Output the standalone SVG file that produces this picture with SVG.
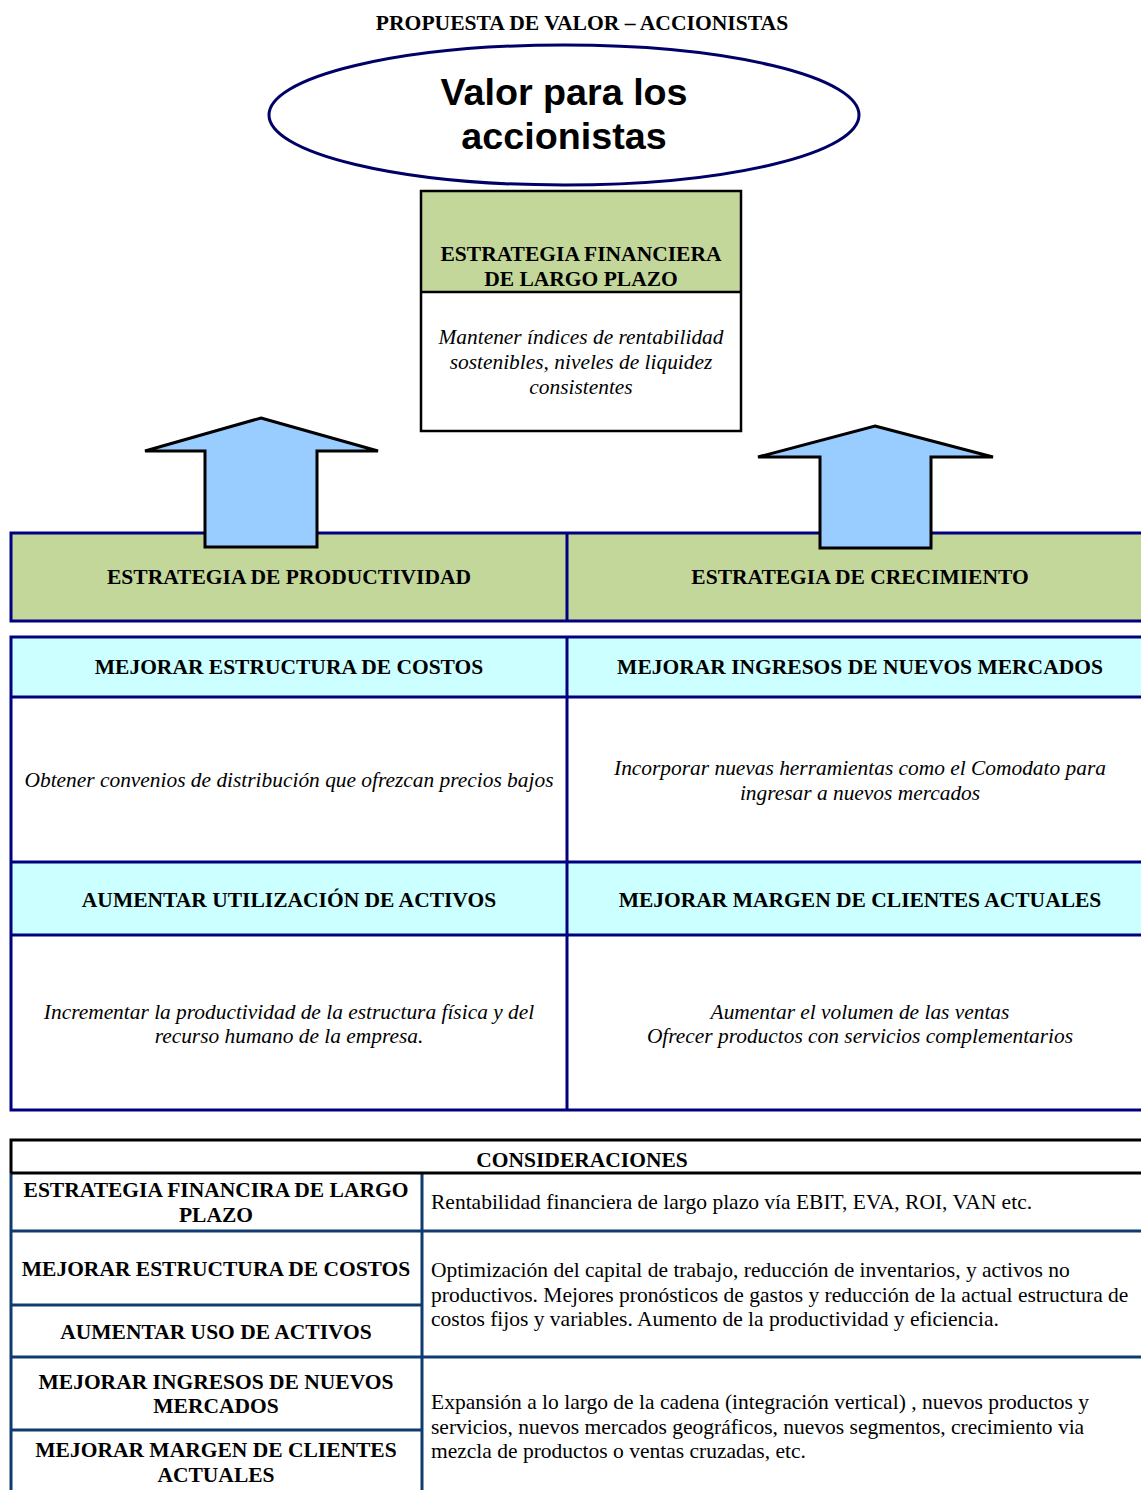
<svg xmlns="http://www.w3.org/2000/svg" width="1141" height="1490" viewBox="0 0 1141 1490">
  <style>
    text { font-family: "Liberation Serif", "Times New Roman", serif; fill: #000; }
    .title { font-size: 21.6px; font-weight: bold; text-anchor: middle; }
    .big { font-family: "Liberation Sans", Arial, sans-serif; font-size: 37.7px; font-weight: bold; text-anchor: middle; }
    .hd { font-size: 21.5px; font-weight: bold; text-anchor: middle; }
    .it { font-size: 21.4px; font-style: italic; text-anchor: middle; }
    .tx { font-size: 21.5px; }
    .green { fill: #C4D79B; }
    .cyan { fill: #CCFFFF; }
    .navy { stroke: #000080; stroke-width: 3; fill: none; }
    .tline { stroke: #0F3B70; stroke-width: 3; fill: none; }
    .arrow { fill: #99CCFF; stroke: #000; stroke-width: 3; stroke-linejoin: miter; }
  </style>

  <rect width="1141" height="1490" fill="#fff"/>

  <text class="title" x="582" y="30">PROPUESTA DE VALOR – ACCIONISTAS</text>

  <!-- Shareholder value ellipse -->
  <g id="valor-accionistas">
    <ellipse cx="564" cy="115" rx="295" ry="70" fill="#fff" stroke="#000066" stroke-width="3"/>
    <text class="big" x="564" y="105">Valor para los</text>
    <text class="big" x="564" y="149">accionistas</text>
  </g>

  <!-- Long-term financial strategy box -->
  <g id="estrategia-financiera">
    <rect x="421" y="191" width="320" height="101" class="green"/>
    <rect x="421" y="191" width="320" height="240" fill="none" stroke="#000" stroke-width="2.5"/>
    <line x1="421" y1="292" x2="741" y2="292" stroke="#000" stroke-width="2.5"/>
    <text class="hd" x="581" y="261">ESTRATEGIA FINANCIERA</text>
    <text class="hd" x="581" y="286">DE LARGO PLAZO</text>
    <text class="it" x="581" y="344">Mantener índices de rentabilidad</text>
    <text class="it" x="581" y="369">sostenibles, niveles de liquidez</text>
    <text class="it" x="581" y="394">consistentes</text>
  </g>

  <!-- Strategy row -->
  <g id="estrategia-productividad">
    <rect x="10" y="533" width="557" height="88" class="green"/>
    <text class="hd" x="289" y="584">ESTRATEGIA DE PRODUCTIVIDAD</text>
  </g>
  <g id="estrategia-crecimiento">
    <rect x="567" y="533" width="580" height="88" class="green"/>
    <text class="hd" x="860" y="584">ESTRATEGIA DE CRECIMIENTO</text>
  </g>
  <g id="strategy-grid">
    <path class="navy" d="M1145,533 H11 V621 H1145 M567,533 V621"/>
  </g>

  <!-- Objectives table -->
  <g id="mejorar-costos">
    <rect x="10" y="636" width="557" height="61" class="cyan"/>
    <text class="hd" x="289" y="674">MEJORAR ESTRUCTURA DE COSTOS</text>
    <text class="it" x="289" y="787">Obtener convenios de distribución que ofrezcan precios bajos</text>
  </g>
  <g id="mejorar-ingresos">
    <rect x="567" y="636" width="580" height="61" class="cyan"/>
    <text class="hd" x="860" y="674">MEJORAR INGRESOS DE NUEVOS MERCADOS</text>
    <text class="it" x="860" y="775">Incorporar nuevas herramientas como el Comodato para</text>
    <text class="it" x="860" y="800">ingresar a nuevos mercados</text>
  </g>
  <g id="aumentar-activos">
    <rect x="10" y="862" width="557" height="73" class="cyan"/>
    <text class="hd" x="289" y="907">AUMENTAR UTILIZACIÓN DE ACTIVOS</text>
    <text class="it" x="289" y="1019">Incrementar la productividad de la estructura física y del</text>
    <text class="it" x="289" y="1043">recurso humano de la empresa.</text>
  </g>
  <g id="mejorar-margen">
    <rect x="567" y="862" width="580" height="73" class="cyan"/>
    <text class="hd" x="860" y="907">MEJORAR MARGEN DE CLIENTES ACTUALES</text>
    <text class="it" x="860" y="1019">Aumentar el volumen de las ventas</text>
    <text class="it" x="860" y="1043">Ofrecer productos con servicios complementarios</text>
  </g>
  <g id="objectives-grid">
    <path class="navy" d="M1145,637 H11 V1110 H1145 M11,697 H1145 M11,862 H1145 M11,935 H1145 M567,637 V1110"/>
  </g>

  <!-- Connectors: upward block arrows -->
  <g id="connectors">
    <polygon class="arrow" points="261,418 378,451 317,451 317,547 205,547 205,451 145,451"/>
    <polygon class="arrow" points="875,426 993,457 931,457 931,548 820,548 820,457 758,457"/>
  </g>

  <!-- Considerations table -->
  <g id="consideraciones">
    <path class="tline" d="M11,1173 V1490 M422,1173 V1490 M11,1231 H1145 M11,1305 H422 M11,1357 H1145 M11,1430 H422"/>
    <path d="M1145,1140 H11 V1173 M11,1173 H1145" fill="none" stroke="#000" stroke-width="3"/>
    <text class="hd" x="582" y="1167">CONSIDERACIONES</text>

    <text class="hd" x="216" y="1197">ESTRATEGIA FINANCIRA DE LARGO</text>
    <text class="hd" x="216" y="1222">PLAZO</text>
    <text class="tx" x="431" y="1209">Rentabilidad financiera de largo plazo vía EBIT, EVA, ROI, VAN etc.</text>

    <text class="hd" x="216" y="1276">MEJORAR ESTRUCTURA DE COSTOS</text>
    <text class="hd" x="216" y="1339">AUMENTAR USO DE ACTIVOS</text>
    <text class="tx" x="431" y="1277">Optimización del capital de trabajo, reducción de inventarios, y activos no</text>
    <text class="tx" x="431" y="1302">productivos. Mejores pronósticos de gastos y reducción de la actual estructura de</text>
    <text class="tx" x="431" y="1326">costos fijos y variables. Aumento de la productividad y eficiencia.</text>

    <text class="hd" x="216" y="1389">MEJORAR INGRESOS DE NUEVOS</text>
    <text class="hd" x="216" y="1413">MERCADOS</text>
    <text class="hd" x="216" y="1457">MEJORAR MARGEN DE CLIENTES</text>
    <text class="hd" x="216" y="1482">ACTUALES</text>
    <text class="tx" x="431" y="1409">Expansión a lo largo de la cadena (integración vertical) , nuevos productos y</text>
    <text class="tx" x="431" y="1434">servicios, nuevos mercados geográficos, nuevos segmentos, crecimiento via</text>
    <text class="tx" x="431" y="1458">mezcla de productos o ventas cruzadas, etc.</text>
  </g>
</svg>
